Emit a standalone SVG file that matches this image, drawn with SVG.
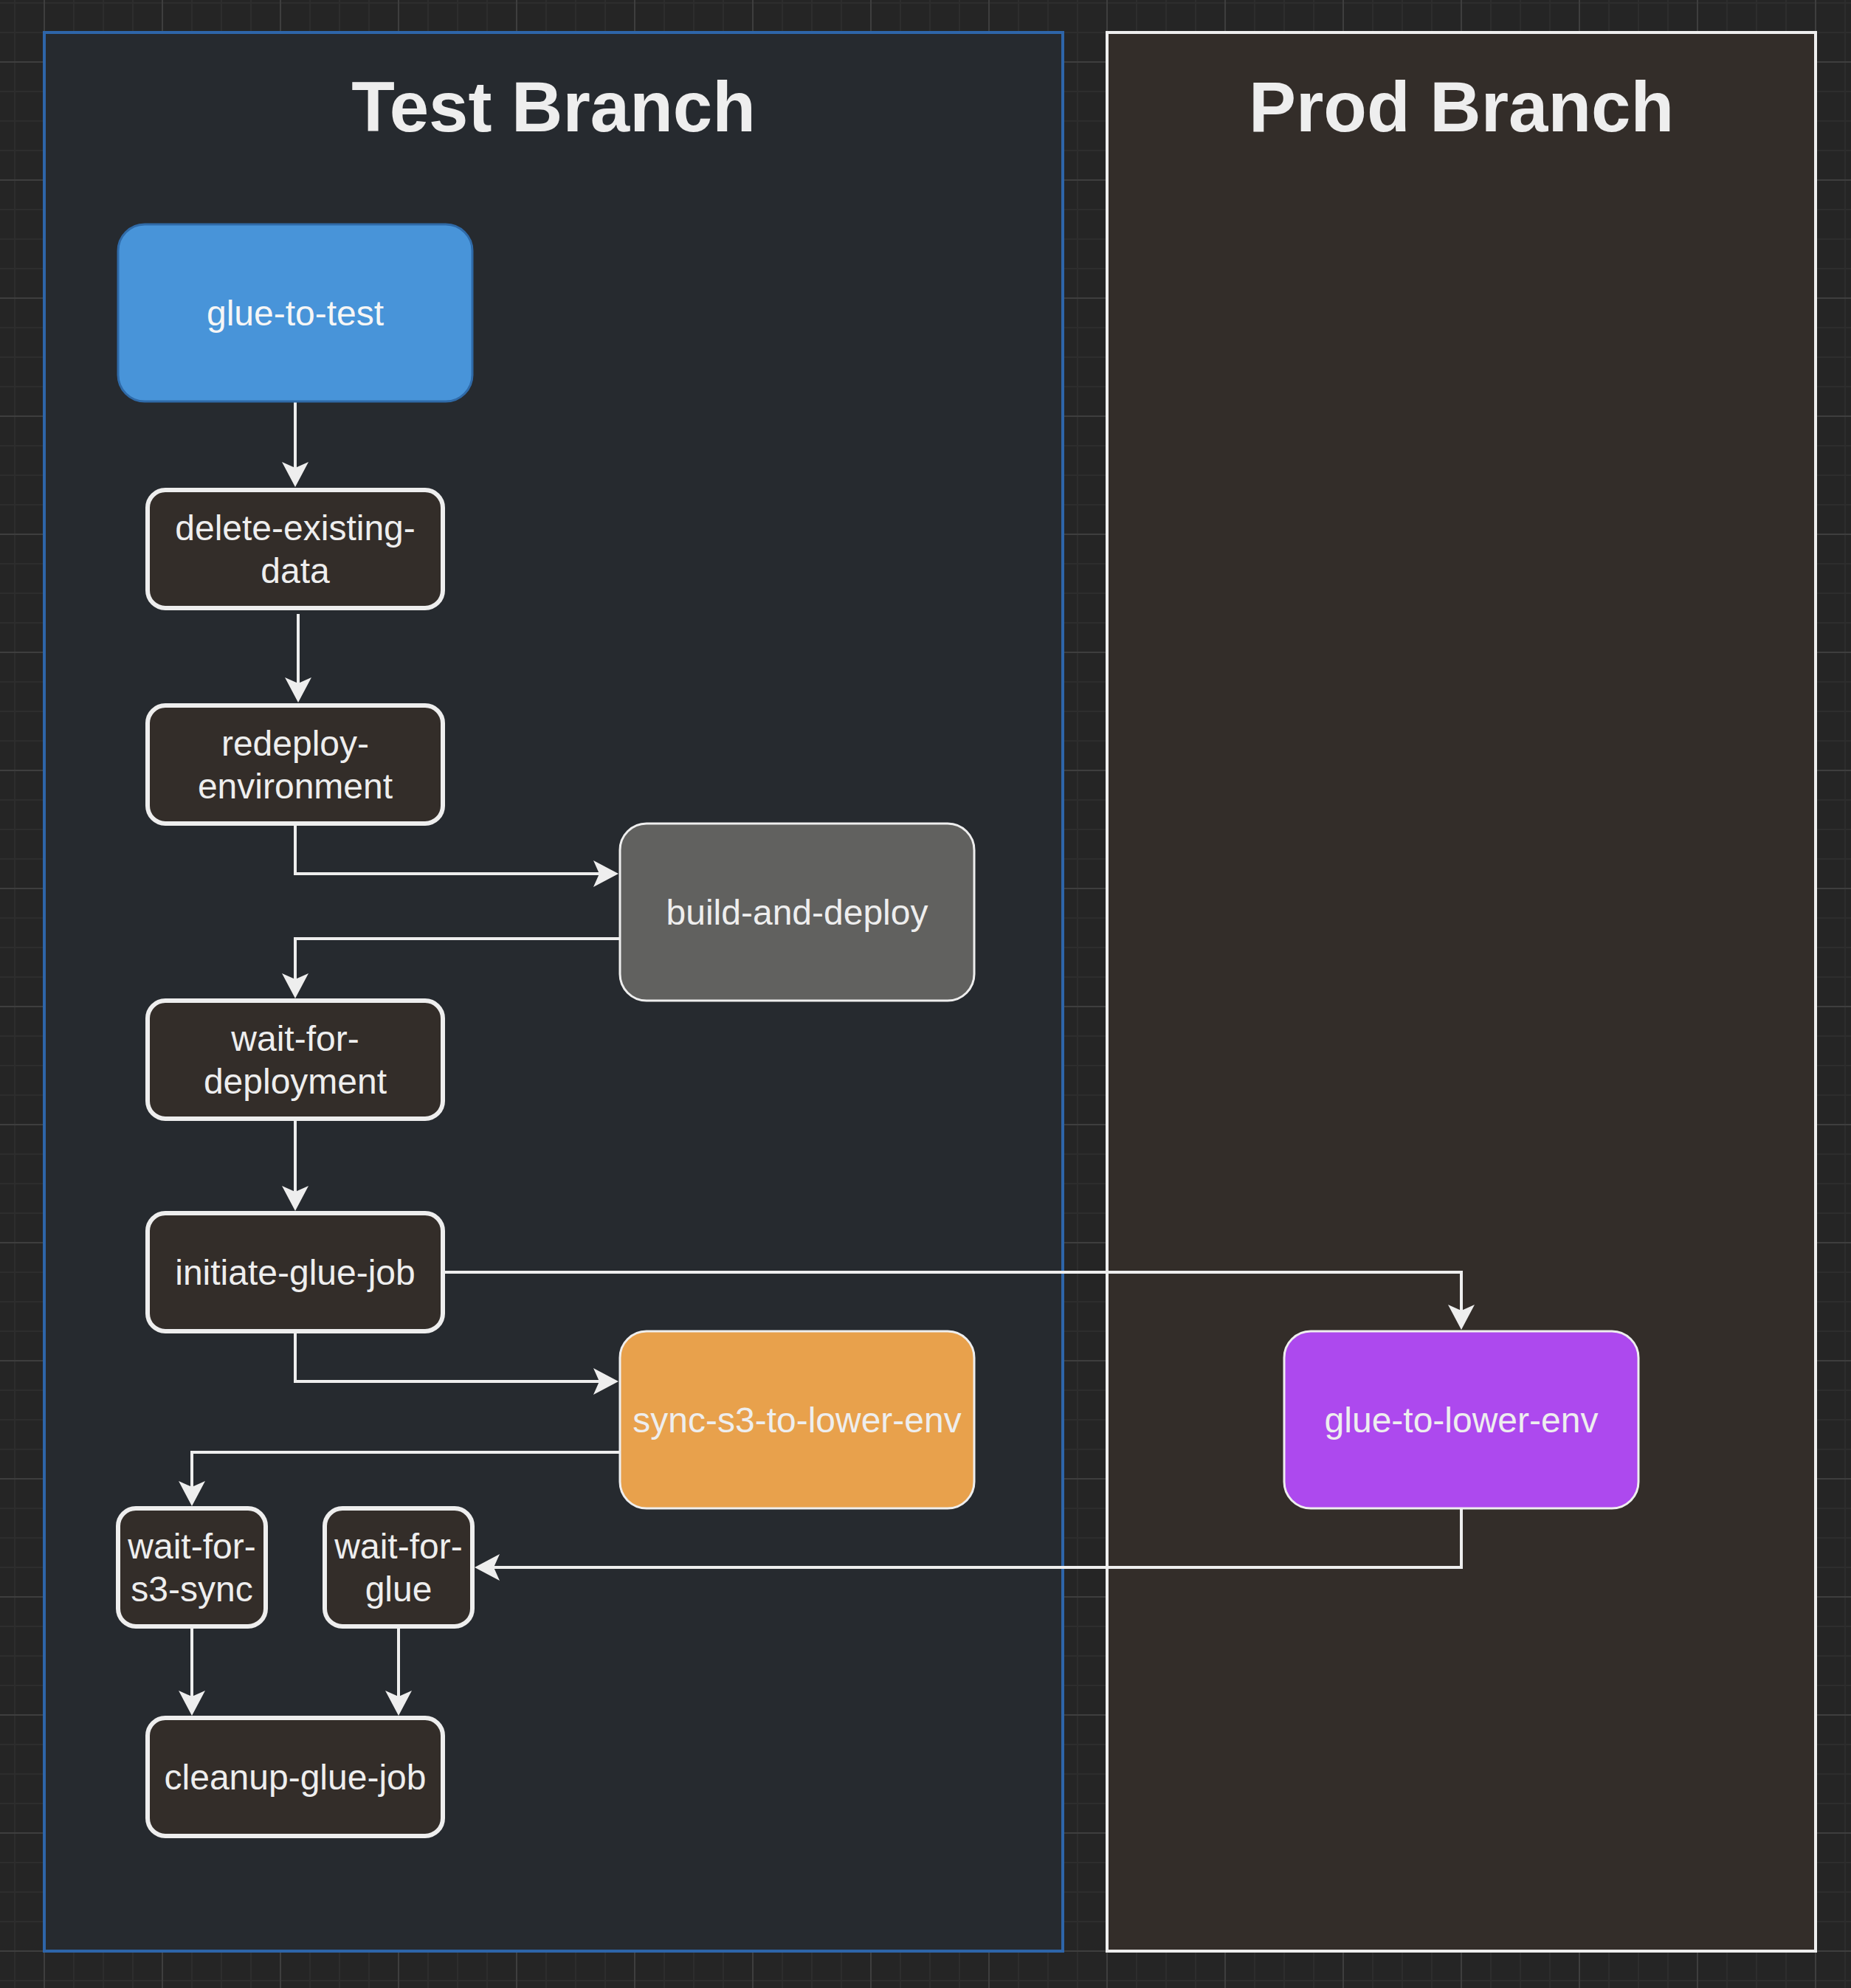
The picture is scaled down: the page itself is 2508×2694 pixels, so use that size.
<svg xmlns="http://www.w3.org/2000/svg" width="2508" height="2694" viewBox="0 0 2508 2694">
  <defs>
    <pattern id="grid" patternUnits="userSpaceOnUse" x="20" y="4" width="160" height="160">
      <rect x="0" y="0" width="160" height="160" fill="#252525"/>
      <g fill="#2d2d2d">
        <rect x="-1" y="0" width="2" height="160"/>
        <rect x="39" y="0" width="2" height="160"/>
        <rect x="79" y="0" width="2" height="160"/>
        <rect x="119" y="0" width="2" height="160"/>
        <rect x="159" y="0" width="2" height="160"/>
        <rect x="0" y="-1" width="160" height="2"/>
        <rect x="0" y="39" width="160" height="2"/>
        <rect x="0" y="79" width="160" height="2"/>
        <rect x="0" y="119" width="160" height="2"/>
        <rect x="0" y="159" width="160" height="2"/>
      </g>
      <g fill="#4e4e4e">
        <rect x="39.5" y="0" width="1" height="160"/>
        <rect x="0" y="79.5" width="160" height="1"/>
      </g>
    </pattern>
    <marker id="arrow" markerUnits="userSpaceOnUse" viewBox="-10 -20 40 40" markerWidth="40" markerHeight="40" refX="0" refY="0" orient="auto" overflow="visible">
      <path d="M26,0 L-8,-18 L0,0 L-8,18 Z" fill="#eeeeee"/>
    </marker>
    <style>
      .lbl { font-family: "Liberation Sans", Arial, Helvetica, sans-serif; font-size: 48px; fill: #eeeeee; text-anchor: middle; }
      .title { font-family: "Liberation Sans", Arial, Helvetica, sans-serif; font-size: 96px; font-weight: bold; fill: #eeeeee; text-anchor: middle; }
      .dark { fill: #332d29; stroke: #eeeeee; stroke-width: 6; }
      .big { stroke: #eeeeee; stroke-width: 3; }
      .edge { fill: none; stroke: #eeeeee; stroke-width: 4; marker-end: url(#arrow); }
    </style>
  </defs>

  <rect x="0" y="0" width="2508" height="2694" fill="url(#grid)"/>

  <g id="test-branch">
    <rect x="60" y="44" width="1380" height="2600" fill="#262a2f" stroke="#2e65a9" stroke-width="4"/>
    <text class="title" x="750" y="178">Test Branch</text>
  </g>
  <g id="prod-branch">
    <rect x="1500" y="44" width="960" height="2600" fill="#332d29" stroke="#eeeeee" stroke-width="4"/>
    <text class="title" x="1980" y="178">Prod Branch</text>
  </g>

  <g id="connectors">
    <path class="edge" d="M400,544 V634"/>
    <path class="edge" d="M404,832 V926"/>
    <path class="edge" d="M400,1116 V1184 H812"/>
    <path class="edge" d="M840,1272 H400 V1327"/>
    <path class="edge" d="M400,1516 V1615"/>
    <path class="edge" d="M600,1724 H1980 V1776"/>
    <path class="edge" d="M400,1804 V1872 H812"/>
    <path class="edge" d="M840,1968 H260 V2015"/>
    <path class="edge" d="M1980,2044 V2124 H669"/>
    <path class="edge" d="M260,2204 V2299"/>
    <path class="edge" d="M540,2204 V2299"/>
  </g>

  <g id="glue-to-test">
    <rect x="160" y="304" width="480" height="240" rx="36" fill="#4894d9" stroke="#2f6aa8" stroke-width="3"/>
    <text class="lbl" x="400" y="441" style="fill:#f6f6f6">glue-to-test</text>
  </g>
  <g id="delete-existing-data">
    <rect class="dark" x="200" y="664" width="400" height="160" rx="24"/>
    <text class="lbl" x="400" y="732">delete-existing-</text>
    <text class="lbl" x="400" y="790">data</text>
  </g>
  <g id="redeploy-environment">
    <rect class="dark" x="200" y="956" width="400" height="160" rx="24"/>
    <text class="lbl" x="400" y="1024">redeploy-</text>
    <text class="lbl" x="400" y="1082">environment</text>
  </g>
  <g id="build-and-deploy">
    <rect class="big" x="840" y="1116" width="480" height="240" rx="36" fill="#61615f"/>
    <text class="lbl" x="1080" y="1253">build-and-deploy</text>
  </g>
  <g id="wait-for-deployment">
    <rect class="dark" x="200" y="1356" width="400" height="160" rx="24"/>
    <text class="lbl" x="400" y="1424">wait-for-</text>
    <text class="lbl" x="400" y="1482">deployment</text>
  </g>
  <g id="initiate-glue-job">
    <rect class="dark" x="200" y="1644" width="400" height="160" rx="24"/>
    <text class="lbl" x="400" y="1741">initiate-glue-job</text>
  </g>
  <g id="sync-s3-to-lower-env">
    <rect class="big" x="840" y="1804" width="480" height="240" rx="36" fill="#e8a14c"/>
    <text class="lbl" x="1080" y="1941">sync-s3-to-lower-env</text>
  </g>
  <g id="glue-to-lower-env">
    <rect class="big" x="1740" y="1804" width="480" height="240" rx="36" fill="#ad49ee"/>
    <text class="lbl" x="1980" y="1941">glue-to-lower-env</text>
  </g>
  <g id="wait-for-s3-sync">
    <rect class="dark" x="160" y="2044" width="200" height="160" rx="24"/>
    <text class="lbl" x="260" y="2112">wait-for-</text>
    <text class="lbl" x="260" y="2170">s3-sync</text>
  </g>
  <g id="wait-for-glue">
    <rect class="dark" x="440" y="2044" width="200" height="160" rx="24"/>
    <text class="lbl" x="540" y="2112">wait-for-</text>
    <text class="lbl" x="540" y="2170">glue</text>
  </g>
  <g id="cleanup-glue-job">
    <rect class="dark" x="200" y="2328" width="400" height="160" rx="24"/>
    <text class="lbl" x="400" y="2425">cleanup-glue-job</text>
  </g>
</svg>
